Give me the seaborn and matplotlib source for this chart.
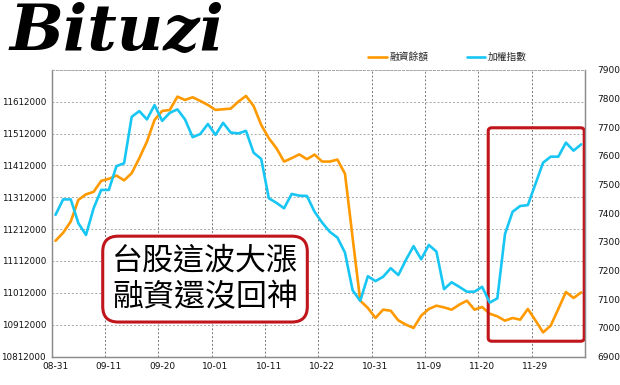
import matplotlib
matplotlib.use("Agg")
import matplotlib.pyplot as plt
import numpy as np
import pandas as pd
import seaborn as sns
from matplotlib.lines import Line2D
from matplotlib.patches import FancyBboxPatch

dates = ["08-31",
         "09-03", "09-04", "09-05", "09-06", "09-07", "09-10", "09-11", "09-12", "09-13", "09-14",
         "09-17", "09-18", "09-19", "09-20", "09-21", "09-24", "09-25", "09-26", "09-27", "09-28",
         "10-01", "10-02", "10-03", "10-04", "10-05", "10-08", "10-09", "10-11", "10-12",
         "10-15", "10-16", "10-17", "10-18", "10-19", "10-22", "10-23", "10-24", "10-25", "10-26",
         "10-29", "10-30", "10-31", "11-01", "11-02", "11-05", "11-06", "11-07", "11-08", "11-09",
         "11-12", "11-13", "11-14", "11-15", "11-16", "11-19", "11-20", "11-21", "11-22", "11-23",
         "11-26", "11-27", "11-28", "11-29", "11-30", "12-03", "12-04", "12-05", "12-06", "12-07"]

# 融資餘額 (left axis)
margin = [11175300, 11200400, 11235800, 11303800, 11321100, 11328900, 11363400, 11369700, 11380000, 11365000,
          11387500, 11434600, 11486600, 11554600, 11582800, 11586000, 11627700, 11617300, 11625800, 11614200,
          11601700, 11586000, 11588200, 11590100, 11612000, 11629900, 11598500, 11539000, 11497300, 11465900,
          11423900, 11434600, 11446500, 11431400, 11445800, 11423900, 11423900, 11430200, 11385300, 11184700,
          10987200, 10964300, 10933000, 10959000, 10955800, 10925400, 10912000, 10901600, 10940200, 10961200,
          10971500, 10966200, 10959000, 10974700, 10987200, 10959000, 10967400, 10946400, 10938000, 10924500,
          10933000, 10927600, 10961200, 10925400, 10887800, 10908800, 10961200, 11014500, 10995700, 11013200]

# 加權指數 (right axis)
taiex = [7394, 7448, 7448, 7365, 7324, 7417, 7481, 7481, 7564, 7574,
         7736, 7756, 7727, 7777, 7722, 7750, 7762, 7727, 7665, 7676,
         7711, 7673, 7715, 7681, 7678, 7687, 7611, 7589, 7452, 7436,
         7417, 7467, 7461, 7460, 7405, 7367, 7335, 7315, 7262, 7131,
         7094, 7180, 7163, 7178, 7208, 7184, 7237, 7285, 7239, 7289,
         7266, 7135, 7159, 7143, 7126, 7126, 7143, 7088, 7103, 7327,
         7405, 7425, 7428, 7502, 7576, 7597, 7597, 7646, 7618, 7640]

tick_labels = dates[::7]
left_ticks = list(range(10812000, 11612001, 100000))
right_ticks = list(range(6900, 7901, 100))

df = pd.DataFrame({"idx": np.arange(len(dates)), "date": dates,
                   "margin": margin, "taiex": taiex})

orange = "#FF9900"
blue = "#18C6F4"
red = "#C0151B"
grey = "#8C8C8C"

sns.set_style("white")
plt.rcParams["font.family"] = ["Noto Sans CJK TC", "DejaVu Sans"]

fig = plt.figure(figsize=(6.2, 3.85), dpi=100)
ax = fig.add_axes([0.0834, 0.074, 0.8601, 0.7447])
ax2 = ax.twinx()

sns.lineplot(data=df, x="idx", y="margin", ax=ax, color=orange, linewidth=1.9)
sns.lineplot(data=df, x="idx", y="taiex", ax=ax2, color=blue, linewidth=1.9)

ax.set_xlim(-0.5, len(dates) - 0.5)
ax.set_ylim(10812000, 11712000)
ax2.set_ylim(6900, 7900)

ax.set_xticks(np.arange(0, len(dates), 7))
ax.set_xticklabels(tick_labels, fontsize=6.5, family=["DejaVu Sans"])
ax.set_xticks(np.arange(6.5, len(dates) - 1, 7), minor=True)
ax.set_yticks(left_ticks)
ax.set_yticklabels([str(v) for v in left_ticks], fontsize=6.3, family=["DejaVu Sans"])
ax2.set_yticks(right_ticks)
ax2.set_yticklabels([str(v) for v in right_ticks], fontsize=6.5, family=["DejaVu Sans"])
ax.tick_params(axis="both", which="both", length=0, pad=4, colors="#111111")
ax2.tick_params(axis="y", length=0, pad=9, colors="#111111")

ax.grid(False)
ax.grid(True, which="minor", axis="x", linestyle=(0, (2, 2)), color="#777777", linewidth=0.7)
ax.grid(True, which="major", axis="y", linestyle=(0, (2, 2)), color="#A8A8A8", linewidth=0.7)
ax.set_axisbelow(True)
ax.set_xlabel("")
ax.set_ylabel("")
ax2.set_ylabel("")

for a in (ax, ax2):
    for side in ("left", "right", "bottom"):
        a.spines[side].set_color(grey)
        a.spines[side].set_linewidth(0.9)
    a.spines["top"].set_color("#A8A8A8")
    a.spines["top"].set_linestyle((0, (2, 2)))
    a.spines["top"].set_linewidth(0.7)

# highlight box on the right
ax.add_patch(FancyBboxPatch((56.8, 10860000), 12.6, 670000, boxstyle="round,pad=0,rounding_size=0.5",
                            transform=ax.transData, fill=False, edgecolor=red, linewidth=2.2,
                            mutation_aspect=20000, zorder=5, clip_on=False))

# annotation box
ax.text(0.2875, 0.27, "台股這波大漲\n融資還沒回神", transform=ax.transAxes, ha="center", va="center",
        fontsize=22.3, linespacing=1.22, color="black", zorder=6,
        bbox=dict(boxstyle="round,pad=0.3,rounding_size=0.5", facecolor="white", edgecolor=red, linewidth=2.2))

handles = [Line2D([], [], color=orange, linewidth=1.9), Line2D([], [], color=blue, linewidth=1.9)]
fig.legend(handles, ["融資餘額", "加權指數"], loc="center", bbox_to_anchor=(0.722, 0.852), ncol=2,
           frameon=False, fontsize=7, handlelength=1.9, handletextpad=0.3, columnspacing=3.9)

fig.text(0.015, 0.995, "Bituzi", fontsize=46, family=["DejaVu Serif"], style="italic", weight="bold",
         va="top", ha="left", color="black")

fig.savefig("out.png", dpi=100)
